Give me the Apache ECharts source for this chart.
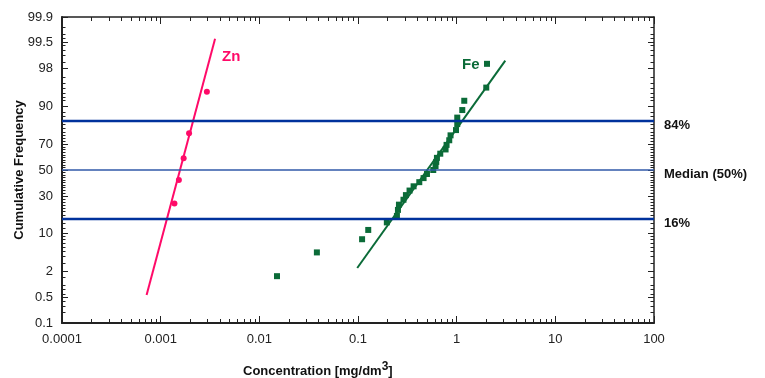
<!DOCTYPE html>
<html>
<head>
<meta charset="utf-8">
<script src="https://cdn.jsdelivr.net/npm/echarts@6/dist/echarts.min.js"></script>
<style>
  html, body { margin: 0; padding: 0; background: #fff; }
  #main { width: 765px; height: 378px; }
</style>
</head>
<body>
<div id="main"></div>
<script>
// measured values (concentration in mg/dm3, cumulative frequency in %)
var znX = [0.00138, 0.00153, 0.00171, 0.00194, 0.00294];
var znY = [25.0, 42.0, 59.3, 77.1, 94.3];
var znFitX = [0.00072, 0.00356];
var znFitY = [0.58, 99.6];

var feX = [0.0151, 0.0383, 0.110, 0.127, 0.196, 0.248, 0.254, 0.260, 0.289, 0.306,
           0.333, 0.366, 0.418, 0.462, 0.500, 0.579, 0.611, 0.621, 0.631, 0.682,
           0.772, 0.790, 0.841, 0.867, 0.984, 1.014, 1.014, 1.14, 1.194, 1.995, 2.03];
var feY = [1.6, 4.8, 8.1, 11.3, 14.5, 17.7, 21.0, 24.2, 27.4, 30.6,
           33.9, 37.1, 40.3, 43.5, 46.8, 50.0, 53.2, 56.5, 59.7, 62.9,
           66.1, 69.4, 72.6, 75.8, 79.0, 82.3, 85.5, 88.7, 91.9, 95.2, 98.4];
var feFitX = [0.0982, 3.11];
var feFitY = [2.39, 98.64];

var guideY = [84, 50, 16];
var guideLabels = ['84%', 'Median (50%)', '16%'];

var xTickLabels = ['0.0001', '0.001', '0.01', '0.1', '1', '10', '100'];
var yTickLabels = ['0.1', '0.5', '2', '10', '30', '50', '70', '90', '98', '99.5', '99.9'];
var yMinorTicks = [0.2, 0.3, 0.4, 0.6, 0.8, 1, 1.5, 3, 4, 5, 6, 7, 8, 9,
                   12, 14, 16, 18, 20, 22, 24, 26, 28, 32, 34, 36, 38, 40, 42, 44, 46, 48,
                   52, 54, 56, 58, 60, 62, 64, 66, 68, 72, 74, 76, 78, 80, 82, 84, 86, 88,
                   92, 93, 94, 95, 96, 97, 98.5, 99, 99.2, 99.4, 99.6, 99.7, 99.8];

// inverse normal cdf (Acklam)
function probit(p) {
  var a = [-3.969683028665376e+01, 2.209460984245205e+02, -2.759285104469687e+02, 1.383577518672690e+02, -3.066479806614716e+01, 2.506628277459239e+00];
  var b = [-5.447609879822406e+01, 1.615858368580409e+02, -1.556989798598866e+02, 6.680131188771972e+01, -1.328068155288572e+01];
  var c = [-7.784894002430293e-03, -3.223964580411365e-01, -2.400758277161838e+00, -2.549732539343734e+00, 4.374664141464968e+00, 2.938163982698783e+00];
  var d = [7.784695709041462e-03, 3.224671290700398e-01, 2.445134137142996e+00, 3.754408661907416e+00];
  var q, r;
  if (p < 0.02425) {
    q = Math.sqrt(-2 * Math.log(p));
    return (((((c[0]*q+c[1])*q+c[2])*q+c[3])*q+c[4])*q+c[5]) / ((((d[0]*q+d[1])*q+d[2])*q+d[3])*q+1);
  }
  if (p <= 1 - 0.02425) {
    q = p - 0.5; r = q * q;
    return (((((a[0]*r+a[1])*r+a[2])*r+a[3])*r+a[4])*r+a[5])*q / (((((b[0]*r+b[1])*r+b[2])*r+b[3])*r+b[4])*r+1);
  }
  q = Math.sqrt(-2 * Math.log(1 - p));
  return -(((((c[0]*q+c[1])*q+c[2])*q+c[3])*q+c[4])*q+c[5]) / ((((d[0]*q+d[1])*q+d[2])*q+d[3])*q+1);
}
var pz = function(pct) { return probit(pct / 100); };
var lg = function(v) { return Math.log10(v); };

var pts = function(xs, ys) {
  return xs.map(function(x, i) { return [lg(x), pz(ys[i])]; });
};

var font = 'Liberation Sans, Arial, sans-serif';
var zMin = pz(0.1), zMax = pz(99.9);
var yMajor = yTickLabels.map(function(l) { return pz(parseFloat(l)); });
var yMinor = yMinorTicks.map(pz);
var xMajor = [-4, -3, -2, -1, 0, 1, 2];
var xMinor = [];
for (var k = -4; k < 2; k++) {
  for (var m = 2; m <= 9; m++) xMinor.push(k + lg(m));
}

var yFmt = function(v) {
  var best = 0;
  yMajor.forEach(function(z, i) { if (Math.abs(z - v) < Math.abs(yMajor[best] - v)) best = i; });
  return yTickLabels[best];
};

var xAx = function(pos, ticks, len, showLine, showLabel) {
  return {
    type: 'value', position: pos, min: -4, max: 2,
    axisLine: { show: showLine, onZero: false, lineStyle: { color: '#222', width: pos === 'bottom' ? 2 : 1.5 } },
    axisTick: { show: true, inside: true, length: len, customValues: ticks, lineStyle: { color: '#222', width: 1 } },
    axisLabel: { show: showLabel, customValues: xMajor, margin: 10, color: '#222', fontSize: 13, fontFamily: font,
      formatter: function(v) { return xTickLabels[Math.round(v) + 4]; } },
    splitLine: { show: false }
  };
};
var yAx = function(pos, ticks, len, showLine, showLabel) {
  return {
    type: 'value', position: pos, min: zMin, max: zMax,
    axisLine: { show: showLine, onZero: false, lineStyle: { color: '#222', width: pos === 'left' ? 2 : 1.5 } },
    axisTick: { show: true, inside: true, length: len, customValues: ticks, lineStyle: { color: '#222', width: 1 } },
    axisLabel: { show: showLabel, customValues: yMajor, margin: 9, color: '#222', fontSize: 13, fontFamily: font, formatter: yFmt },
    splitLine: { show: false }
  };
};

var yLeft = yAx('left', yMajor, 6, true, true);
yLeft.name = 'Cumulative Frequency';
yLeft.nameLocation = 'middle';
yLeft.nameGap = 36;
yLeft.nameMoveOverlap = false;
yLeft.nameTextStyle = { fontSize: 13, fontWeight: 'bold', fontFamily: font, color: '#111' };

var chart = echarts.init(document.getElementById('main'));
chart.setOption({
  animation: false,
  grid: { left: 62, right: 111, top: 17, bottom: 55 },
  title: {
    text: '{a|Concentration [mg/dm}{b|3}{a|]}',
    left: 238, top: 353,
    textStyle: {
      rich: {
        a: { fontSize: 13, fontWeight: 'bold', fontFamily: font, color: '#111', lineHeight: 20, verticalAlign: 'bottom' },
        b: { fontSize: 12, fontWeight: 'bold', fontFamily: font, color: '#111', lineHeight: 20, verticalAlign: 'bottom', padding: [0, 0, 5, 0] }
      }
    }
  },
  xAxis: [
    xAx('bottom', xMajor, 7, true, true),
    xAx('bottom', xMinor, 4, false, false),
    xAx('top', xMajor, 7, true, false),
    xAx('top', xMinor, 4, false, false)
  ],
  yAxis: [
    yLeft,
    yAx('left', yMinor, 3.5, false, false),
    yAx('right', yMajor, 6, true, false),
    yAx('right', yMinor, 3.5, false, false)
  ],
  graphic: [
    { type: 'text', left: 222, top: 49, style: { text: 'Zn', fill: '#ff0a68', font: 'bold 15px ' + font } },
    { type: 'text', left: 462, top: 57, style: { text: 'Fe', fill: '#0b6b38', font: 'bold 15px ' + font } }
  ],
  series: [
    {
      type: 'line', data: [], z: 1,
      markLine: {
        silent: true, symbol: 'none',
        data: guideY.map(function(v, i) {
          return {
            yAxis: pz(v),
            lineStyle: { color: v === 50 ? '#3058a8' : '#00329c', width: v === 50 ? 1.6 : 2.4, type: 'solid' },
            label: { show: true, position: 'end', distance: 10, offset: [0, 4], formatter: guideLabels[i],
              color: '#111', fontSize: 13, fontWeight: 'bold', fontFamily: font }
          };
        })
      }
    },
    {
      type: 'line', data: pts(znFitX, znFitY), showSymbol: false, z: 3,
      lineStyle: { color: '#ff0a68', width: 2 }
    },
    {
      type: 'scatter', data: pts(znX, znY), symbol: 'circle', symbolSize: 6, z: 4,
      itemStyle: { color: '#ff0a68', opacity: 1 }
    },
    {
      type: 'line', data: pts(feFitX, feFitY), showSymbol: false, z: 3,
      lineStyle: { color: '#0b6b38', width: 2 }
    },
    {
      type: 'scatter', data: pts(feX, feY), symbol: 'rect', symbolSize: 6, z: 4,
      itemStyle: { color: '#0b6b38', opacity: 1 }
    }
  ]
});
</script>
</body>
</html>
